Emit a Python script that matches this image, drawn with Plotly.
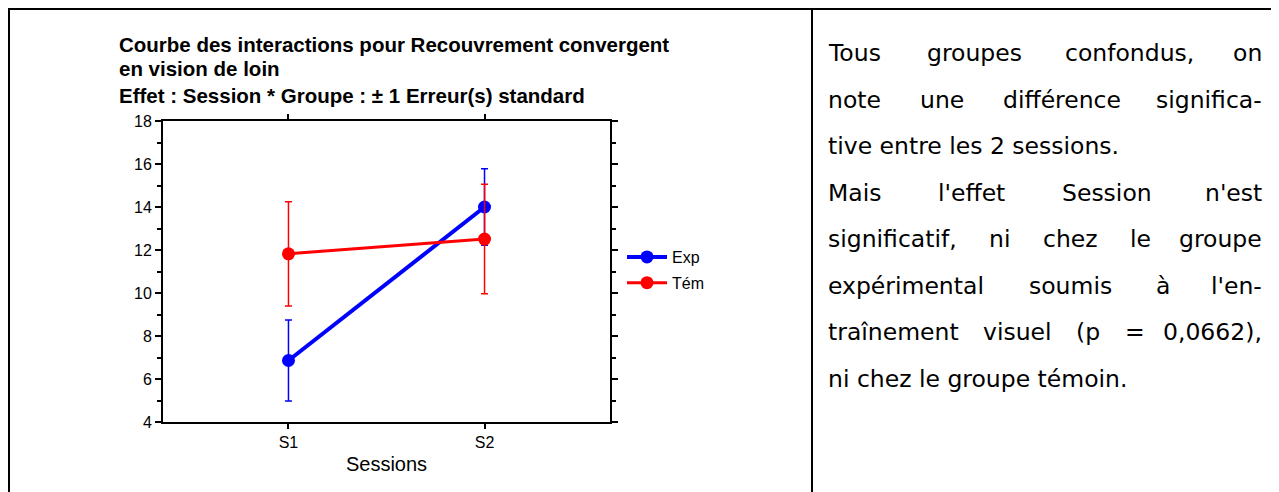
import plotly.graph_objects as go

sessions = ["S1", "S2"]
exp_mean = [6.86, 14.0]
exp_se = [1.88, 1.78]
tem_mean = [11.82, 12.51]
tem_se = [2.43, 2.55]

title_lines = [
    "Courbe des interactions pour Recouvrement convergent",
    "en vision de loin",
    "Effet : Session * Groupe : ± 1 Erreur(s) standard",
]
comment_lines = [
    ("Tous groupes confondus, on", True),
    ("note une différence significa-", True),
    ("tive entre les 2 sessions.", False),
    ("Mais l'effet Session n'est", True),
    ("significatif, ni chez le groupe", True),
    ("expérimental soumis à l'en-", True),
    ("traînement visuel (p = 0,0662),", True),
    ("ni chez le groupe témoin.", False),
]

OFF = 8  # page body margin
W, H = 1279 - OFF, 492 - OFF
# plot area in page pixels
PL, PR, PT, PB = 163, 610, 121, 422

def px(x):
    return (x - PL) / (PR - PL)

def py(y):
    return (PB - y) / (PB - PT)

fig = go.Figure()
fig.add_trace(go.Scatter(
    x=sessions, y=exp_mean, name="Exp", mode="lines+markers",
    line=dict(color="#0000ff", width=4),
    marker=dict(color="#0000ff", size=13),
    error_y=dict(type="data", array=exp_se, color="#0000ff", thickness=1.5, width=3.5),
    legendgroup="a",
))
fig.add_trace(go.Scatter(
    x=sessions, y=tem_mean, name="Tém", mode="lines+markers",
    line=dict(color="#ff0000", width=3),
    marker=dict(color="#ff0000", size=13),
    error_y=dict(type="data", array=tem_se, color="#ff0000", thickness=1.5, width=3.5),
    legendgroup="b",
))

axis_font = dict(family="Liberation Sans, Arial", size=16, color="black")
fig.update_xaxes(
    type="category", range=[-0.64, 1.64],
    showline=True, linecolor="black", linewidth=2, mirror="ticks",
    ticks="outside", ticklen=5, tickwidth=1.5, tickcolor="black",
    showgrid=False, zeroline=False, tickfont=axis_font,
    title=dict(text="Sessions", font=dict(family="Liberation Sans, Arial", size=20, color="black"), standoff=7),
)
fig.update_yaxes(
    range=[4, 18], dtick=2,
    showline=True, linecolor="black", linewidth=2, mirror="allticks",
    ticks="outside", ticklen=6, tickwidth=1.5, tickcolor="black",
    minor=dict(dtick=1, ticks="outside", ticklen=4, tickwidth=1.5, tickcolor="black", showgrid=False),
    showgrid=False, zeroline=False, tickfont=axis_font,
)

annotations = []
for t, yy in zip(title_lines, [44, 68, 95]):
    annotations.append(dict(
        text="<b>" + t + "</b>", xref="paper", yref="paper",
        x=px(117), y=py(yy), xanchor="left", yanchor="middle", showarrow=False,
        font=dict(family="Liberation Sans, Arial", size=20.5, color="black"),
    ))

# approximate DejaVu Sans advance widths (em units)
CW = {
    'a': .613, 'b': .635, 'c': .550, 'd': .635, 'e': .615, 'f': .352, 'g': .635, 'h': .634,
    'i': .278, 'j': .278, 'k': .579, 'l': .278, 'm': .974, 'n': .634, 'o': .612, 'p': .635,
    'q': .635, 'r': .411, 's': .521, 't': .392, 'u': .634, 'v': .592, 'w': .818, 'x': .592,
    'y': .592, 'z': .525, 'M': .863, 'S': .635, 'T': .611, ',': .318, '.': .318, '-': .361,
    "'": .275, '(': .390, ')': .390, '=': .838, 'é': .615, 'à': .613, 'î': .278, ' ': .318,
}
FS = 23.5
def wlen(w):
    return sum(CW.get(c, .62) for c in w) * FS

L, R = 826, 1264
y0, dy = 53, 46.5
tfont = dict(family="DejaVu Sans", size=FS, color="black")
for i, (line, just) in enumerate(comment_lines):
    yy = y0 + i * dy
    if not just:
        annotations.append(dict(text=line, xref="paper", yref="paper", x=px(L), y=py(yy),
                                xanchor="left", yanchor="middle", showarrow=False, font=tfont))
        continue
    words = line.split(" ")
    tot = sum(wlen(w) for w in words)
    gap = (R - L - tot) / (len(words) - 1)
    xcur = L
    for j, w in enumerate(words):
        if j == len(words) - 1:
            annotations.append(dict(text=w, xref="paper", yref="paper", x=px(R), y=py(yy),
                                    xanchor="right", yanchor="middle", showarrow=False, font=tfont))
        else:
            annotations.append(dict(text=w, xref="paper", yref="paper", x=px(xcur), y=py(yy),
                                    xanchor="left", yanchor="middle", showarrow=False, font=tfont))
        xcur += wlen(w) + gap

shapes = [
    dict(type="line", xref="paper", yref="paper", x0=px(7), x1=px(1279), y0=py(9), y1=py(9),
         line=dict(color="black", width=2)),
    dict(type="line", xref="paper", yref="paper", x0=px(9), x1=px(9), y0=py(8), y1=py(492),
         line=dict(color="black", width=2)),
    dict(type="line", xref="paper", yref="paper", x0=px(812), x1=px(812), y0=py(8), y1=py(492),
         line=dict(color="black", width=2)),
]

fig.update_layout(
    width=W, height=H,
    margin=dict(l=PL - OFF, r=W - (PR - OFF), t=PT - OFF, b=H - (PB - OFF), pad=0),
    plot_bgcolor="white", paper_bgcolor="white",
    showlegend=True,
    legend=dict(x=px(622), y=py(240), xanchor="left", yanchor="top",
                font=dict(family="Liberation Sans, Arial", size=16, color="black"),
                itemwidth=40,
                tracegroupgap=2, traceorder="grouped", bgcolor="rgba(0,0,0,0)"),
    annotations=annotations, shapes=shapes,
)

fig.write_html("out.html")
